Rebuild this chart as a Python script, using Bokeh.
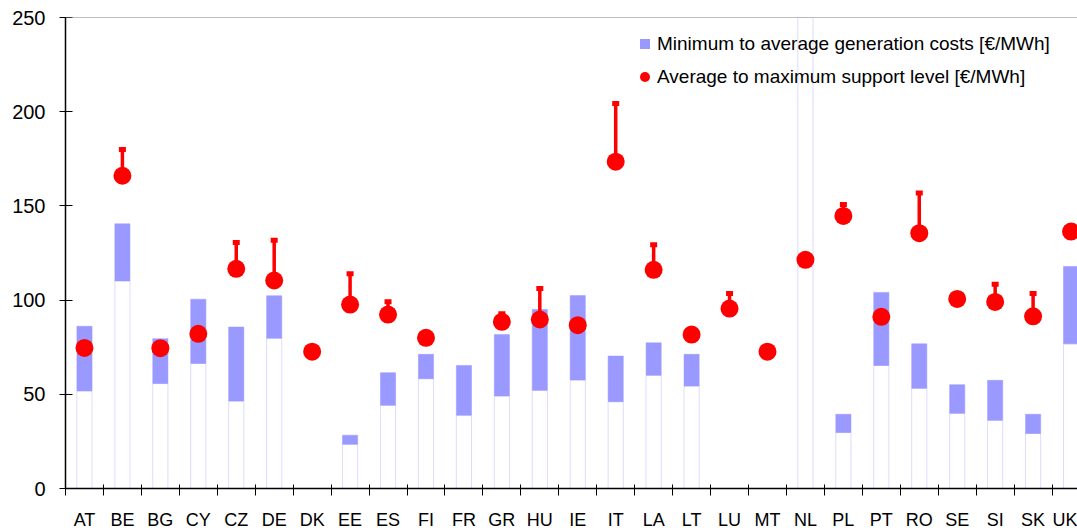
import numpy as np
from bokeh.plotting import figure
from bokeh.models import (ColumnDataSource, FixedTicker, Span, Legend, LegendItem,
                          Range1d)
from bokeh.embed import file_html
from bokeh.resources import INLINE

nan = float("nan")

countries = ["AT", "BE", "BG", "CY", "CZ", "DE", "DK", "EE", "ES", "FI", "FR", "GR", "HU", "IE",
             "IT", "LA", "LT", "LU", "MT", "NL", "PL", "PT", "RO", "SE", "SI", "SK", "UK"]

# minimum generation cost [EUR/MWh] (NL bar runs off the top of the scale)
gen_min = [51.8, 110.2, 55.7, 66.4, 46.4, 79.8, nan, 23.5, 44.2, 58.3, 38.9, 49.1, 52.1, 57.6,
           46.1, 60.1, 54.4, nan, nan, 255.0, 29.7, 65.3, 53.2, 39.9, 36.2, 29.2, 76.8]
# average generation cost [EUR/MWh]
gen_avg = [86.1, 140.5, 79.5, 100.5, 85.7, 102.3, nan, 28.3, 61.5, 71.2, 65.3, 81.7, 95.0, 102.4,
           70.3, 77.3, 71.2, nan, nan, nan, 39.4, 104.1, 76.8, 55.1, 57.4, 39.4, 117.9]
# average support level [EUR/MWh]
sup_avg = [74.6, 166.0, 74.5, 82.1, 116.6, 110.4, 72.6, 97.6, 92.3, 80.0, nan, 88.5, 89.7, 86.7,
           173.5, 116.1, 81.7, 95.5, 72.6, 121.4, 144.7, 91.1, 135.5, 100.6, 99.0, 91.4, 136.4]
# maximum support level [EUR/MWh]
sup_max = [nan, 180.0, nan, nan, 130.6, 131.8, nan, 114.0, 99.1, nan, nan, 92.7, 106.2, nan,
           204.4, 129.4, nan, 103.5, nan, nan, 150.7, nan, 156.9, nan, 108.4, 103.5, nan]

y_ticks = [0, 50, 100, 150, 200, 250]

BLUE = "#9999ff"
RED = "#ff0000"
OUTLINE = "#dcdcff"
FONT = "Liberation Sans"

idx = np.arange(len(countries))
centers = idx + 0.5
src = ColumnDataSource(dict(
    x=centers,
    zero=np.zeros(len(countries)),
    gmin=np.array(gen_min, dtype=float),
    gavg=np.array(gen_avg, dtype=float),
    savg=np.array(sup_avg, dtype=float),
    smax=np.array(sup_max, dtype=float),
))

p = figure(width=1077, height=532, output_backend="svg", toolbar_location=None,
           x_range=Range1d(0, 26.67), y_range=Range1d(0, 250),
           min_border_left=65, min_border_right=0, min_border_top=17, min_border_bottom=0)
p.background_fill_color = "white"
p.border_fill_color = "white"
p.outline_line_color = None
p.xgrid.visible = False
p.ygrid.visible = False

# white base part of each bar (0 -> minimum), faint outline
p.vbar(x="x", bottom="zero", top="gmin", width=0.4, source=src,
       fill_color="white", line_color=OUTLINE, line_width=1)
# blue range (minimum -> average generation cost)
p.vbar(x="x", bottom="gmin", top="gavg", width=0.4, source=src,
       fill_color=BLUE, line_color=BLUE, line_width=0.5)

# support: stem from average to maximum, cap, and dot
p.segment(x0="x", y0="savg", x1="x", y1="smax", source=src, line_color=RED, line_width=3.5)
p.rect(x="x", y="smax", width=7, height=5, width_units="screen", height_units="screen",
       source=src, fill_color=RED, line_color=None)
p.scatter(x="x", y="savg", size=18, marker="circle", source=src,
          fill_color=RED, line_color=None)

# top border line
p.add_layout(Span(location=250, dimension="width", line_color="#808080", line_width=1))

# axes
yax = p.yaxis[0]
yax.ticker = FixedTicker(ticks=y_ticks)
yax.axis_line_color = "black"
yax.axis_line_width = 1.5
yax.major_tick_in = 7
yax.major_tick_out = 6
yax.major_tick_line_color = "black"
yax.minor_tick_line_color = None
yax.major_label_text_font = FONT
yax.major_label_text_font_size = "20px"
yax.major_label_text_color = "black"
yax.major_label_standoff = 14

xax = p.xaxis[0]
xax.ticker = FixedTicker(ticks=list(centers), minor_ticks=[float(i) for i in range(len(countries))])
xax.major_label_overrides = {float(c): n for c, n in zip(centers, countries)}
xax.axis_line_color = "black"
xax.axis_line_width = 1.5
xax.major_tick_line_color = None
xax.major_tick_in = 0
xax.major_tick_out = 0
xax.minor_tick_line_color = "black"
xax.minor_tick_in = 4
xax.minor_tick_out = 7
xax.major_label_text_font = FONT
xax.major_label_text_font_size = "18px"
xax.major_label_text_color = "black"
xax.major_label_standoff = 14

# legend (dummy renderers for the legend swatches)
leg_src = ColumnDataSource(dict(x=[nan], y=[nan]))
r_leg1 = p.scatter(x="x", y="y", source=leg_src, marker="square", size=10,
                   fill_color=BLUE, line_color=None)
r_leg2 = p.scatter(x="x", y="y", source=leg_src, marker="circle", size=10,
                   fill_color=RED, line_color=None)
legend = Legend(items=[
    LegendItem(label="Minimum to average generation costs [€/MWh]", renderers=[r_leg1]),
    LegendItem(label="Average to maximum support level [€/MWh]", renderers=[r_leg2]),
], location=(567, 399), orientation="vertical",
    glyph_width=25, glyph_height=25, label_height=25, spacing=8,
    padding=0, margin=0, label_standoff=0,
    label_text_font=FONT, label_text_font_size="19px", label_text_color="black",
    background_fill_alpha=0, border_line_alpha=0)
p.add_layout(legend)

open("out.html", "w").write(file_html(p, INLINE))
